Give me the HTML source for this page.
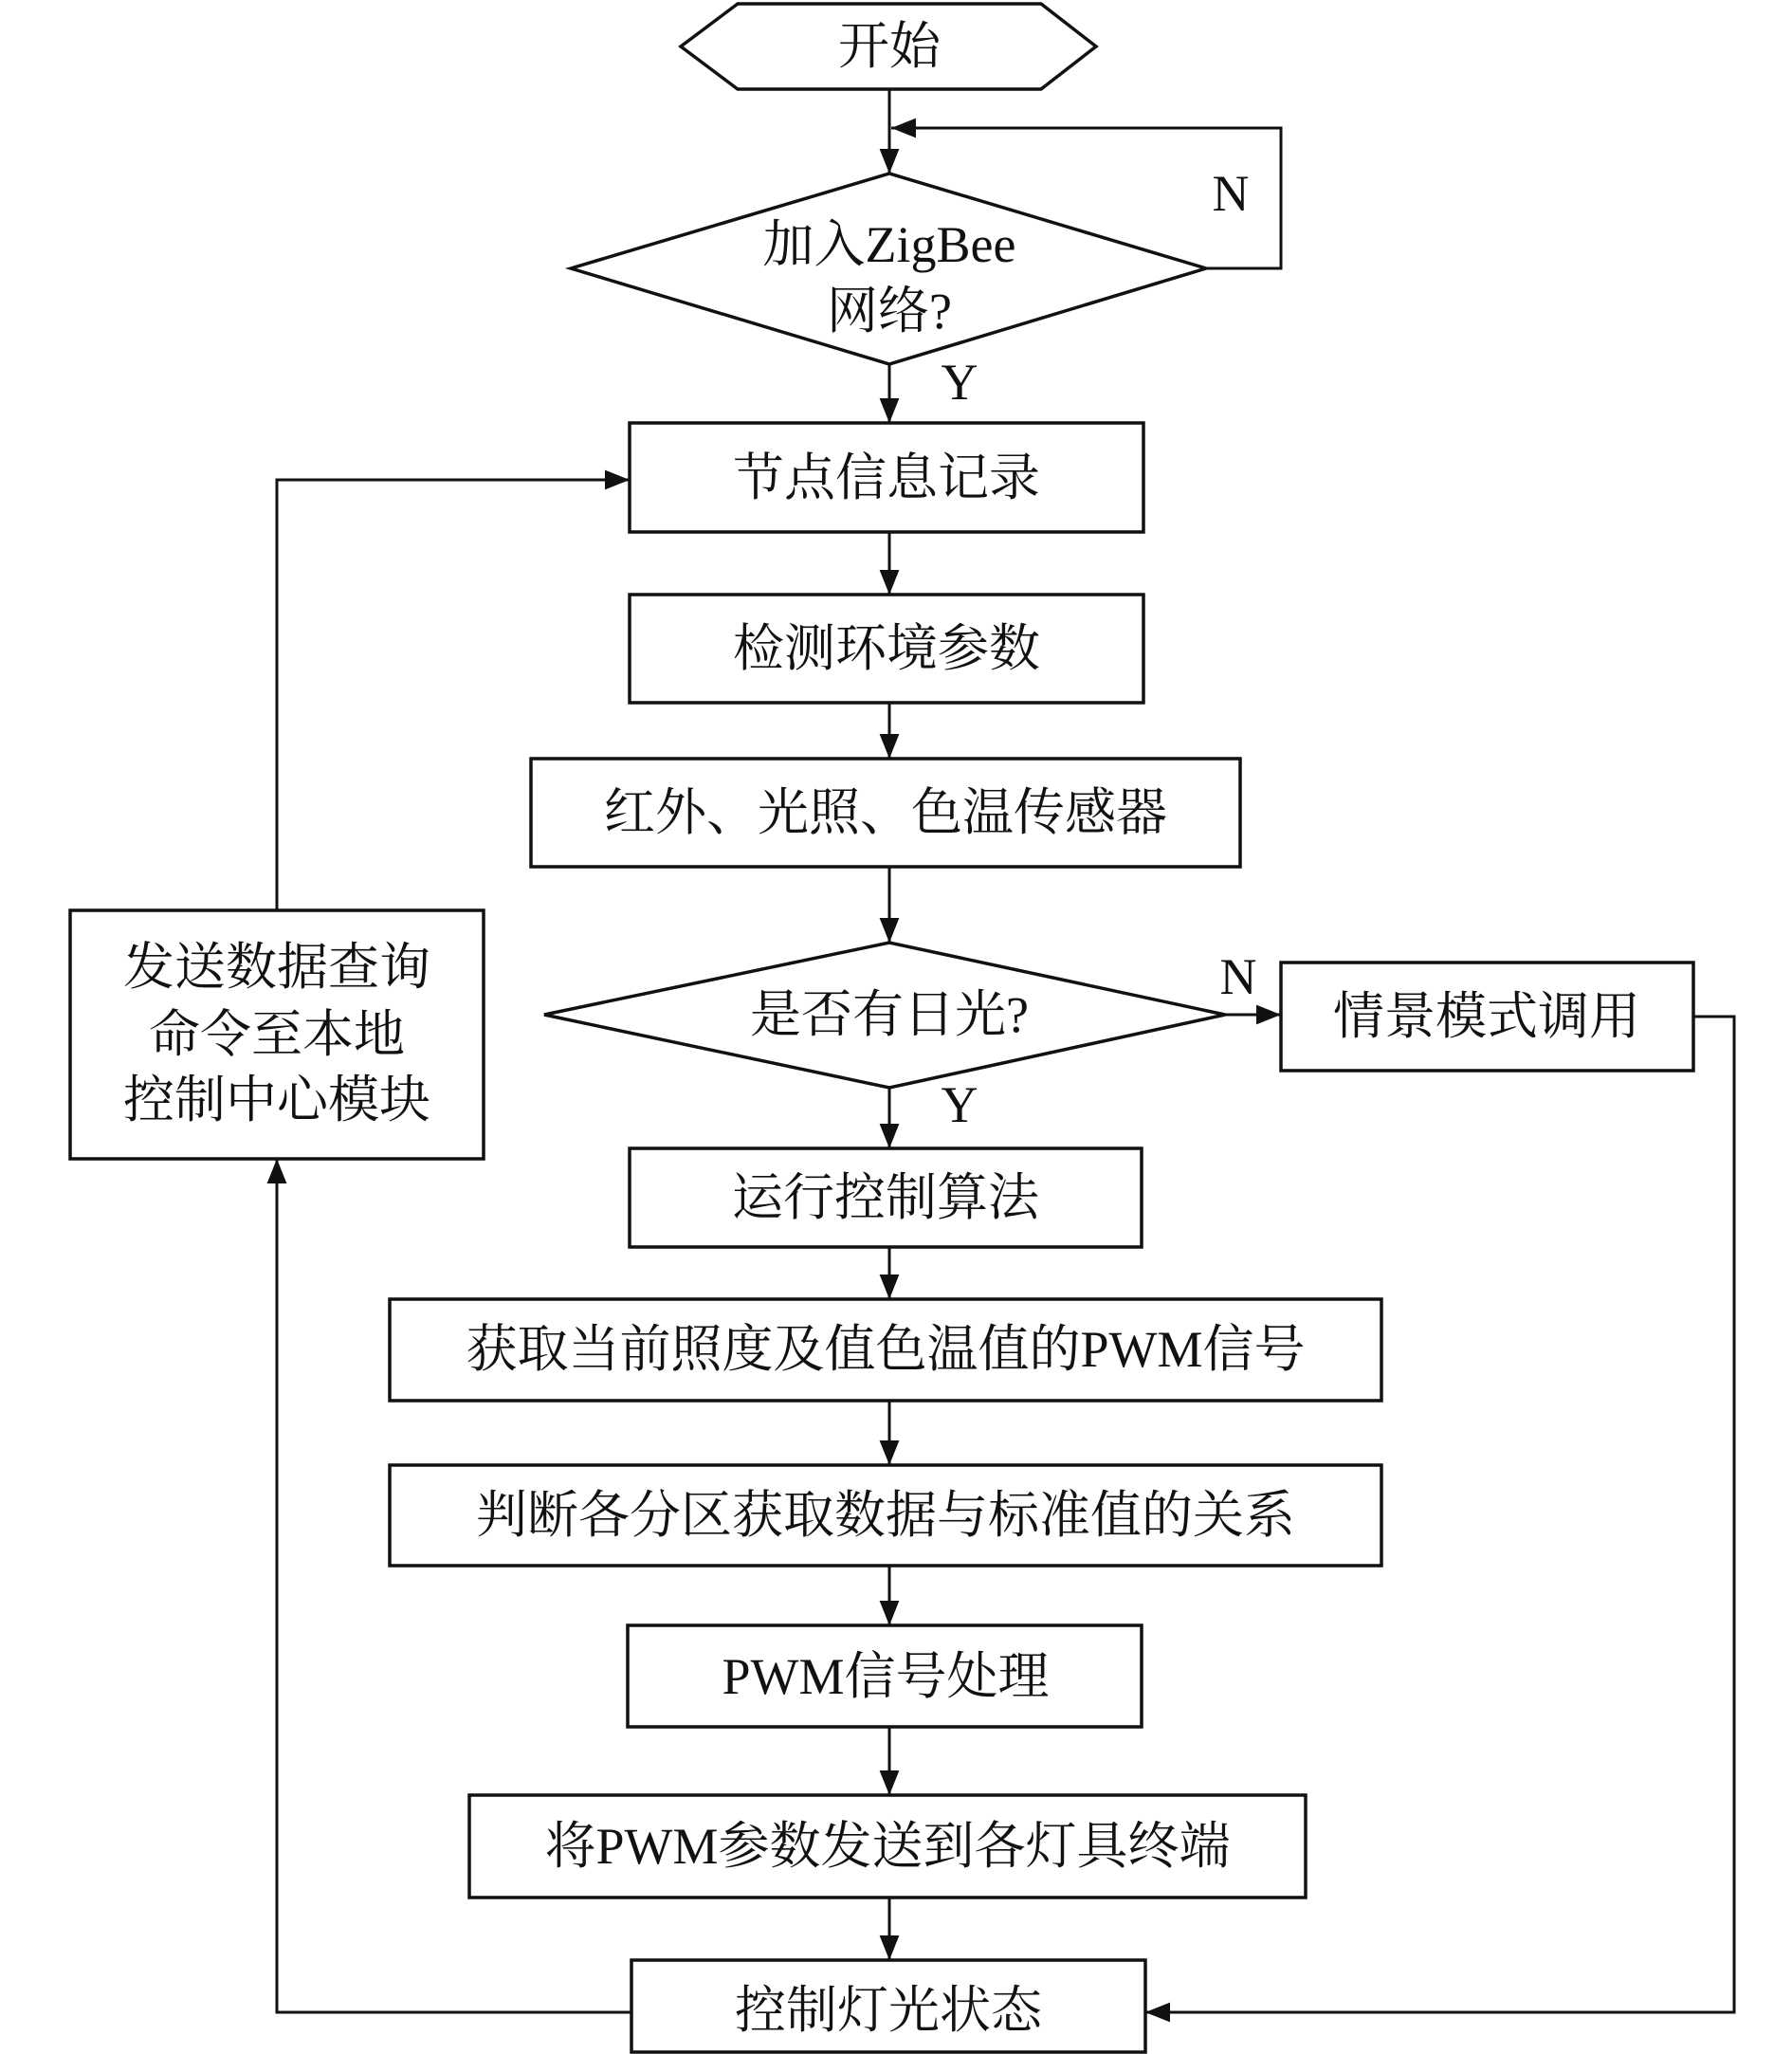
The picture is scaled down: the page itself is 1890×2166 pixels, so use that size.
<!DOCTYPE html>
<html><head><meta charset="utf-8"><style>
html,body{margin:0;padding:0;background:#fff;}
svg{display:block;}
text{font-family:"Liberation Serif","Noto Serif CJK SC",serif;font-size:54px;fill:#111;text-anchor:middle;dominant-baseline:central;}
</style></head><body>
<svg width="1890" height="2166" viewBox="0 0 1890 2166" xmlns="http://www.w3.org/2000/svg">
<defs><marker id="a" viewBox="0 0 10 10" refX="10" refY="5" markerWidth="9" markerHeight="9" markerUnits="userSpaceOnUse" orient="auto"><path d="M0,0 L10,5 L0,10 z" fill="#111"/></marker>
<marker id="b" viewBox="0 0 10 10" refX="10" refY="5" markerWidth="26" markerHeight="26" markerUnits="userSpaceOnUse" orient="auto"><path d="M0,1 L10,5 L0,9 z" fill="#111"/></marker></defs>
<g fill="none" stroke="#111" stroke-width="3.5">
<polygon points="718,49 778,4 1098,4 1156,49 1098,94 778,94"/>
<polygon points="602,283 938,183 1272,283 938,384"/>
<rect x="664" y="446" width="542" height="115"/>
<rect x="664" y="627" width="542" height="114"/>
<rect x="560" y="800" width="748" height="114"/>
<polygon points="574,1070 938,994 1292,1070 938,1147"/>
<rect x="1351" y="1015" width="435" height="114"/>
<rect x="664" y="1211" width="540" height="104"/>
<rect x="411" y="1370" width="1046" height="107"/>
<rect x="411" y="1545" width="1046" height="106"/>
<rect x="662" y="1714" width="542" height="107"/>
<rect x="495" y="1893" width="882" height="108"/>
<rect x="666" y="2067" width="542" height="97"/>
<rect x="74" y="960" width="436" height="262"/>
</g>
<g fill="none" stroke="#111" stroke-width="3" marker-end="url(#b)">
<path d="M938,94 V183"/>
<path d="M1272,283 H1351 V135 H940"/>
<path d="M938,384 V446"/>
<path d="M938,561 V627"/>
<path d="M938,741 V800"/>
<path d="M938,914 V994"/>
<path d="M1292,1070 H1351"/>
<path d="M938,1147 V1211"/>
<path d="M938,1315 V1370"/>
<path d="M938,1477 V1545"/>
<path d="M938,1651 V1714"/>
<path d="M938,1821 V1893"/>
<path d="M938,2001 V2067"/>
<path d="M1786,1072 H1829 V2122 H1208"/>
<path d="M666,2122 H292 V1222"/>
<path d="M292,960 V506 H664"/>
</g>
<text x="938" y="49">开始</text>
<text x="938" y="258">加入ZigBee</text>
<text x="938" y="328">网络?</text>
<text x="1298" y="204">N</text>
<text x="1012" y="403">Y</text>
<text x="935" y="504">节点信息记录</text>
<text x="935" y="684">检测环境参数</text>
<text x="934" y="857">红外、光照、色温传感器</text>
<text x="938" y="1070">是否有日光?</text>
<text x="1306" y="1030">N</text>
<text x="1012" y="1165">Y</text>
<text x="1568" y="1072">情景模式调用</text>
<text x="292" y="1020">发送数据查询</text>
<text x="292" y="1091">命令至本地</text>
<text x="292" y="1160">控制中心模块</text>
<text x="934" y="1263">运行控制算法</text>
<text x="934" y="1423">获取当前照度及值色温值的PWM信号</text>
<text x="934" y="1598">判断各分区获取数据与标准值的关系</text>
<text x="934" y="1768">PWM信号处理</text>
<text x="936" y="1947">将PWM参数发送到各灯具终端</text>
<text x="937" y="2120">控制灯光状态</text>
</svg>
</body></html>
